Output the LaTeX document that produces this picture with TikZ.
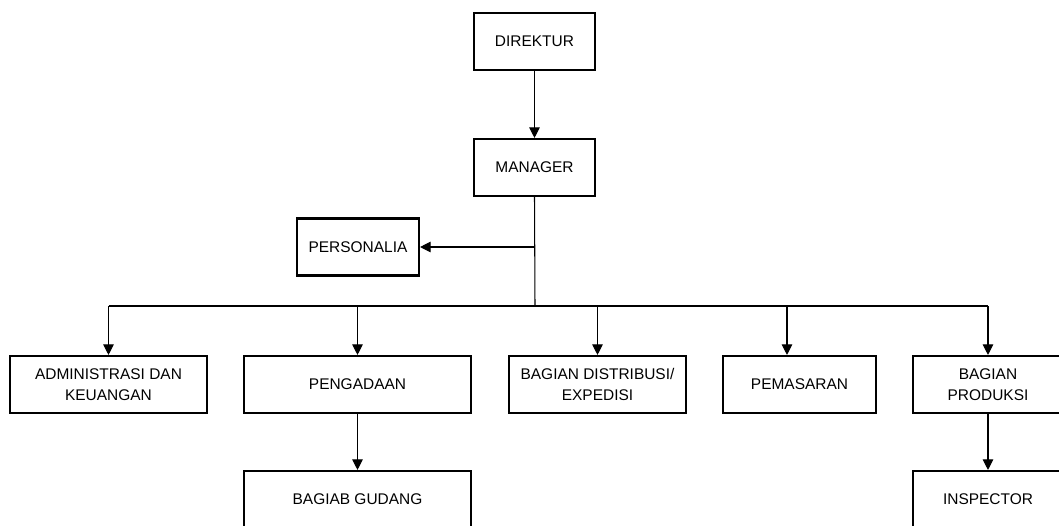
\documentclass[tikz,border=0pt]{standalone}
\usepackage{fontspec}
\setmainfont{Liberation Sans}
\usetikzlibrary{arrows.meta}

\tikzset{
  unit/.style={draw, line width=1.2pt, align=center, inner sep=0pt,
    minimum height=1.14cm, font=\fontsize{8.8}{11.7}\selectfont},
  wire/.style={line width=0.6pt},
  link/.style={wire, -{Triangle[length=6pt,width=6pt]}},
}

\begin{document}
\begin{tikzpicture}[x=0.02cm,y=-0.02cm]
  \useasboundingbox (0,0) rectangle (1059,525);
  \clip (0,0) rectangle (1059,525);

  \node[unit, minimum width=2.42cm] (direktur) at (534.5,41.5) {DIREKTUR};
  \node[unit, minimum width=2.42cm] (manager) at (534.5,167.5) {MANAGER};
  \node[unit, minimum width=2.44cm] (personalia) at (358,247) {PERSONALIA};

  \node[unit, minimum width=3.94cm] (admin) at (108.5,384.5) {ADMINISTRASI DAN\\KEUANGAN};
  \node[unit, minimum width=4.54cm] (pengadaan) at (357.5,384.5) {PENGADAAN};
  \node[unit, minimum width=3.54cm] (distribusi) at (597.5,384.5) {BAGIAN DISTRIBUSI/\\EXPEDISI};
  \node[unit, minimum width=3.06cm] (pemasaran) at (799.5,384.5) {PEMASARAN};
  \node[unit, minimum width=3.0cm] (produksi) at (988,384.5) {BAGIAN\\PRODUKSI};

  \node[unit, minimum width=4.54cm] (gudang) at (357.5,499.5) {BAGIAB GUDANG};
  \node[unit, minimum width=3.0cm] (inspector) at (988,499.5) {INSPECTOR};

  \coordinate (bus) at (535,306);

  \draw[link] (direktur) -- (manager);
  \draw[wire] (manager.south) -- (bus);
  \draw[link] (manager.south |- personalia.east) -- (personalia.east);
  \draw[wire] (admin.north |- bus) -- (produksi.north |- bus);

  \foreach \n in {admin,pengadaan,distribusi,produksi}
    \draw[link] (\n.north |- bus) -- (\n.north);
  \draw[link] ([xshift=-0.25cm]pemasaran.north |- bus) -- ([xshift=-0.25cm]pemasaran.north);

  \draw[link] (pengadaan) -- (gudang);
  \draw[link] (produksi) -- (inspector);
\end{tikzpicture}
\end{document}
